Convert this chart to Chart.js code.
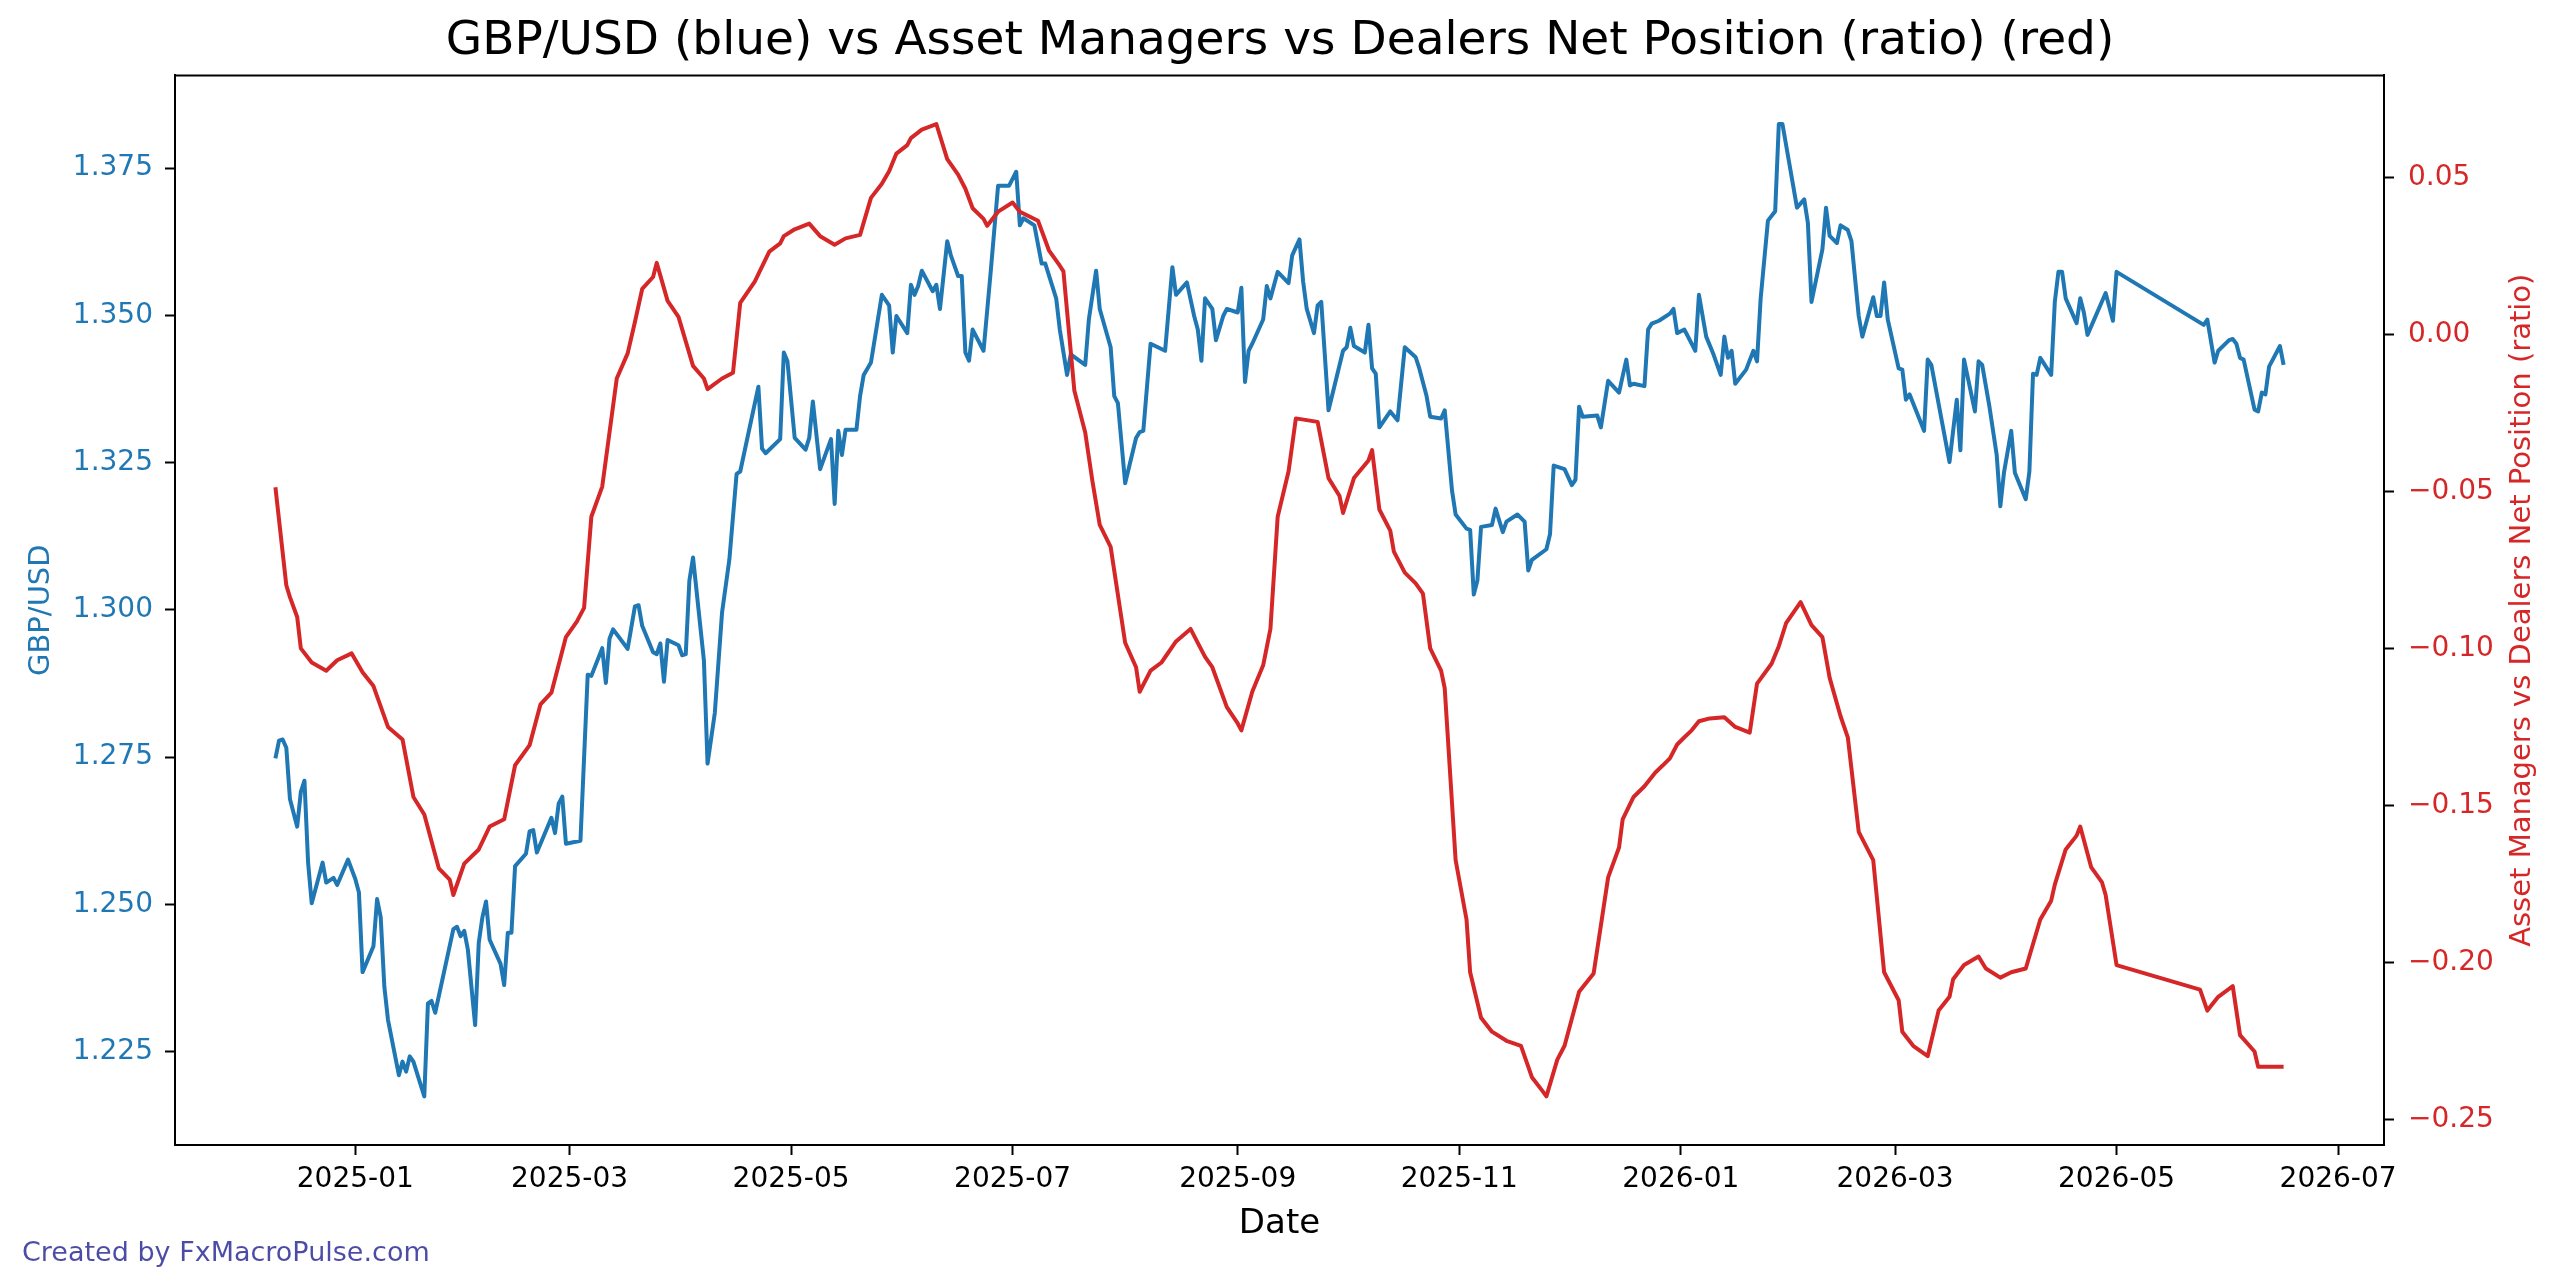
<!DOCTYPE html>
<html>
<head>
<meta charset="utf-8">
<script src="https://cdn.jsdelivr.net/npm/chart.js@4.4.1/dist/chart.umd.min.js"></script>
<style>
html,body{margin:0;padding:0;background:#ffffff;}
#wrap{width:2560px;height:1288px;}
</style>
</head>
<body>
<div id="wrap"><canvas id="c" width="2560" height="1288"></canvas></div>
<script>
// ---------------- DATA ----------------
const chartTitle = 'GBP/USD (blue) vs Asset Managers vs Dealers Net Position (ratio) (red)';
const leftAxisLabel = 'GBP/USD';
const rightAxisLabel = 'Asset Managers vs Dealers Net Position (ratio)';
const xAxisLabel = 'Date';
const footerText = 'Created by FxMacroPulse.com';

const blueDates = [
'2024-12-10','2024-12-11','2024-12-12','2024-12-13','2024-12-14','2024-12-16','2024-12-17','2024-12-18','2024-12-19','2024-12-20',
'2024-12-23','2024-12-24','2024-12-26','2024-12-27','2024-12-30','2025-01-01','2025-01-02','2025-01-03','2025-01-06','2025-01-07',
'2025-01-08','2025-01-09','2025-01-10','2025-01-13','2025-01-14','2025-01-15','2025-01-16','2025-01-17','2025-01-20','2025-01-21',
'2025-01-22','2025-01-23','2025-01-28','2025-01-29','2025-01-30','2025-01-31','2025-02-01','2025-02-03','2025-02-04','2025-02-05',
'2025-02-06','2025-02-07','2025-02-10','2025-02-11','2025-02-12','2025-02-13','2025-02-14','2025-02-17','2025-02-18','2025-02-19',
'2025-02-20','2025-02-24','2025-02-25','2025-02-26','2025-02-27','2025-02-28','2025-03-04','2025-03-06','2025-03-07','2025-03-10',
'2025-03-11','2025-03-12','2025-03-13','2025-03-17','2025-03-19','2025-03-20','2025-03-21','2025-03-24','2025-03-25','2025-03-26',
'2025-03-27','2025-03-28','2025-03-31','2025-04-01','2025-04-02','2025-04-03','2025-04-04','2025-04-07','2025-04-08','2025-04-10',
'2025-04-12','2025-04-14','2025-04-16','2025-04-17','2025-04-22','2025-04-23','2025-04-24','2025-04-28','2025-04-29','2025-04-30',
'2025-05-02','2025-05-05','2025-05-06','2025-05-07','2025-05-09','2025-05-12','2025-05-13','2025-05-14','2025-05-15','2025-05-16',
'2025-05-19','2025-05-20','2025-05-21','2025-05-23','2025-05-26','2025-05-28','2025-05-29','2025-05-30','2025-06-02','2025-06-03',
'2025-06-04','2025-06-05','2025-06-06','2025-06-09','2025-06-10','2025-06-11','2025-06-13','2025-06-14','2025-06-16','2025-06-17',
'2025-06-18','2025-06-19','2025-06-20','2025-06-23','2025-06-25','2025-06-27','2025-06-30','2025-07-02','2025-07-03','2025-07-04',
'2025-07-07','2025-07-09','2025-07-10','2025-07-13','2025-07-14','2025-07-16','2025-07-17','2025-07-21','2025-07-22','2025-07-24',
'2025-07-25','2025-07-28','2025-07-29','2025-07-30','2025-08-01','2025-08-04','2025-08-05','2025-08-06','2025-08-08','2025-08-12',
'2025-08-14','2025-08-15','2025-08-18','2025-08-20','2025-08-21','2025-08-22','2025-08-23','2025-08-25','2025-08-26','2025-08-28',
'2025-08-29','2025-09-01','2025-09-02','2025-09-03','2025-09-04','2025-09-05','2025-09-08','2025-09-09','2025-09-10','2025-09-12',
'2025-09-15','2025-09-16','2025-09-18','2025-09-19','2025-09-20','2025-09-22','2025-09-23','2025-09-24','2025-09-26','2025-09-30',
'2025-10-01','2025-10-02','2025-10-03','2025-10-06','2025-10-07','2025-10-08','2025-10-09','2025-10-10','2025-10-13','2025-10-15',
'2025-10-17','2025-10-20','2025-10-21','2025-10-23','2025-10-24','2025-10-27','2025-10-28','2025-10-30','2025-10-31','2025-11-03',
'2025-11-04','2025-11-05','2025-11-06','2025-11-07','2025-11-10','2025-11-11','2025-11-13','2025-11-14','2025-11-17','2025-11-19',
'2025-11-20','2025-11-21','2025-11-25','2025-11-26','2025-11-27','2025-11-30','2025-12-02','2025-12-03','2025-12-04','2025-12-05',
'2025-12-09','2025-12-10','2025-12-12','2025-12-15','2025-12-17','2025-12-18','2025-12-19','2025-12-22','2025-12-23','2025-12-24',
'2025-12-26','2025-12-29','2025-12-30','2025-12-31','2026-01-02','2026-01-05','2026-01-06','2026-01-08','2026-01-10','2026-01-12',
'2026-01-13','2026-01-14','2026-01-15','2026-01-16','2026-01-19','2026-01-21','2026-01-22','2026-01-23','2026-01-25','2026-01-27',
'2026-01-28','2026-01-29','2026-02-02','2026-02-04','2026-02-05','2026-02-06','2026-02-09','2026-02-10','2026-02-11','2026-02-13',
'2026-02-14','2026-02-16','2026-02-17','2026-02-19','2026-02-20','2026-02-23','2026-02-24','2026-02-25','2026-02-26','2026-02-27',
'2026-03-02','2026-03-03','2026-03-04','2026-03-05','2026-03-09','2026-03-10','2026-03-11','2026-03-16','2026-03-18','2026-03-19',
'2026-03-20','2026-03-23','2026-03-24','2026-03-25','2026-03-27','2026-03-29','2026-03-30','2026-03-31','2026-04-02','2026-04-03',
'2026-04-06','2026-04-07','2026-04-08','2026-04-09','2026-04-10','2026-04-13','2026-04-14','2026-04-15','2026-04-16','2026-04-17',
'2026-04-20','2026-04-21','2026-04-22','2026-04-23','2026-04-28','2026-04-30','2026-05-01','2026-05-25','2026-05-26','2026-05-28',
'2026-05-29','2026-06-01','2026-06-02','2026-06-03','2026-06-04','2026-06-05','2026-06-08','2026-06-09','2026-06-10','2026-06-11',
'2026-06-12','2026-06-15','2026-06-16'
];
const blueValues = [
1.2748,1.2778,1.2780,1.2766,1.2679,1.2632,1.2691,1.2710,1.2571,1.2502,
1.2571,1.2537,1.2545,1.2533,1.2576,1.2543,1.2520,1.2385,1.2429,1.2509,
1.2478,1.2360,1.2304,1.2210,1.2233,1.2216,1.2242,1.2233,1.2174,1.2332,
1.2336,1.2316,1.2458,1.2462,1.2446,1.2455,1.2423,1.2295,1.2435,1.2478,
1.2505,1.2440,1.2399,1.2363,1.2452,1.2452,1.2565,1.2586,1.2624,1.2626,
1.2588,1.2647,1.2621,1.2671,1.2683,1.2603,1.2608,1.2890,1.2888,1.2935,
1.2876,1.2951,1.2967,1.2934,1.3006,1.3008,1.2973,1.2928,1.2925,1.2943,
1.2878,1.2949,1.2940,1.2923,1.2925,1.3050,1.3089,1.2914,1.2739,1.2825,
1.2996,1.3085,1.3231,1.3235,1.3379,1.3274,1.3266,1.3290,1.3437,1.3422,
1.3292,1.3272,1.3292,1.3354,1.3239,1.3290,1.3180,1.3304,1.3263,1.3306,
1.3306,1.3363,1.3399,1.3420,1.3535,1.3517,1.3437,1.3499,1.3470,1.3552,
1.3535,1.3550,1.3576,1.3541,1.3552,1.3511,1.3626,1.3602,1.3567,1.3567,
1.3437,1.3423,1.3476,1.3440,1.3576,1.3720,1.3720,1.3744,1.3653,1.3665,
1.3653,1.3588,1.3588,1.3529,1.3476,1.3399,1.3434,1.3416,1.3493,1.3576,
1.3511,1.3446,1.3363,1.3351,1.3215,1.3292,1.3302,1.3304,1.3452,1.3440,
1.3582,1.3535,1.3556,1.3499,1.3476,1.3423,1.3529,1.3511,1.3458,1.3499,
1.3511,1.3505,1.3547,1.3387,1.3440,1.3452,1.3493,1.3550,1.3529,1.3574,
1.3555,1.3602,1.3629,1.3558,1.3511,1.3470,1.3517,1.3523,1.3339,1.3440,
1.3446,1.3479,1.3448,1.3437,1.3484,1.3410,1.3401,1.3310,1.3337,1.3322,
1.3446,1.3429,1.3410,1.3363,1.3328,1.3325,1.3339,1.3203,1.3162,1.3138,
1.3136,1.3026,1.3050,1.3141,1.3144,1.3172,1.3132,1.3150,1.3162,1.3150,
1.3067,1.3085,1.3103,1.3129,1.3245,1.3239,1.3212,1.3221,1.3345,1.3328,
1.3330,1.3310,1.3389,1.3369,1.3425,1.3381,1.3384,1.3380,1.3476,1.3486,
1.3491,1.3503,1.3511,1.3470,1.3476,1.3440,1.3535,1.3464,1.3434,1.3399,
1.3464,1.3428,1.3440,1.3384,1.3408,1.3440,1.3422,1.3529,1.3661,1.3677,
1.3825,1.3825,1.3683,1.3697,1.3657,1.3523,1.3612,1.3683,1.3635,1.3623,
1.3653,1.3645,1.3626,1.3499,1.3464,1.3531,1.3499,1.3499,1.3556,1.3493,
1.3410,1.3408,1.3357,1.3366,1.3304,1.3425,1.3416,1.3251,1.3357,1.3271,
1.3425,1.3337,1.3422,1.3416,1.3345,1.3263,1.3176,1.3233,1.3304,1.3233,
1.3188,1.3235,1.3401,1.3399,1.3428,1.3399,1.3523,1.3574,1.3574,1.3529,
1.3487,1.3529,1.3505,1.3467,1.3538,1.3491,1.3574,1.3484,1.3493,1.3420,
1.3440,1.3458,1.3460,1.3452,1.3428,1.3425,1.3340,1.3337,1.3369,1.3366,
1.3413,1.3448,1.3416
];

const redDates = [
'2024-12-10','2024-12-13','2024-12-14','2024-12-16','2024-12-17','2024-12-20','2024-12-24','2024-12-27','2024-12-31','2025-01-03',
'2025-01-06','2025-01-10','2025-01-14','2025-01-17','2025-01-20','2025-01-24','2025-01-27','2025-01-28','2025-01-31','2025-02-04',
'2025-02-07','2025-02-11','2025-02-14','2025-02-18','2025-02-21','2025-02-24','2025-02-28','2025-03-03','2025-03-05','2025-03-07',
'2025-03-10','2025-03-14','2025-03-17','2025-03-19','2025-03-21','2025-03-24','2025-03-25','2025-03-28','2025-03-31','2025-04-04',
'2025-04-07','2025-04-08','2025-04-12','2025-04-15','2025-04-17','2025-04-21','2025-04-25','2025-04-28','2025-04-29','2025-05-02',
'2025-05-06','2025-05-09','2025-05-13','2025-05-16','2025-05-20','2025-05-23','2025-05-26','2025-05-28','2025-05-30','2025-06-02',
'2025-06-03','2025-06-06','2025-06-10','2025-06-13','2025-06-16','2025-06-18','2025-06-20','2025-06-23','2025-06-24','2025-06-27',
'2025-07-01','2025-07-03','2025-07-08','2025-07-11','2025-07-14','2025-07-15','2025-07-18','2025-07-21','2025-07-23','2025-07-25',
'2025-07-28','2025-08-01','2025-08-04','2025-08-05','2025-08-08','2025-08-11','2025-08-15','2025-08-19','2025-08-23','2025-08-25',
'2025-08-29','2025-09-01','2025-09-02','2025-09-05','2025-09-08','2025-09-10','2025-09-12','2025-09-15','2025-09-17','2025-09-23',
'2025-09-26','2025-09-29','2025-09-30','2025-10-03','2025-10-07','2025-10-08','2025-10-10','2025-10-13','2025-10-14','2025-10-17',
'2025-10-20','2025-10-22','2025-10-24','2025-10-27','2025-10-28','2025-10-31','2025-11-03','2025-11-04','2025-11-07','2025-11-10',
'2025-11-14','2025-11-18','2025-11-21','2025-11-24','2025-11-25','2025-11-28','2025-11-30','2025-12-04','2025-12-08','2025-12-12',
'2025-12-15','2025-12-16','2025-12-19','2025-12-22','2025-12-25','2025-12-27','2025-12-29','2025-12-31','2026-01-02','2026-01-04',
'2026-01-06','2026-01-09','2026-01-13','2026-01-16','2026-01-20','2026-01-22','2026-01-26','2026-01-28','2026-01-30','2026-02-03',
'2026-02-06','2026-02-09','2026-02-11','2026-02-14','2026-02-16','2026-02-19','2026-02-23','2026-02-26','2026-03-02','2026-03-03',
'2026-03-06','2026-03-10','2026-03-13','2026-03-16','2026-03-17','2026-03-20','2026-03-24','2026-03-26','2026-03-30','2026-04-02',
'2026-04-06','2026-04-10','2026-04-13','2026-04-14','2026-04-17','2026-04-20','2026-04-21','2026-04-24','2026-04-27','2026-04-28',
'2026-05-01','2026-05-24','2026-05-26','2026-05-29','2026-06-02','2026-06-04','2026-06-08','2026-06-09','2026-06-16'
];
const redValues = [
-0.0486,-0.0798,-0.0836,-0.0899,-0.0999,-0.1044,-0.1070,-0.1037,-0.1015,-0.1075,
-0.1119,-0.1249,-0.1289,-0.1472,-0.1528,-0.1699,-0.1735,-0.1784,-0.1684,-0.1639,
-0.1566,-0.1543,-0.1371,-0.1307,-0.1177,-0.1140,-0.0963,-0.0914,-0.0870,-0.0580,
-0.0484,-0.0140,-0.0060,0.0040,0.0145,0.0183,0.0228,0.0107,0.0056,-0.0100,
-0.0140,-0.0174,-0.0140,-0.0122,0.0101,0.0168,0.0264,0.0290,0.0313,0.0335,
0.0353,0.0313,0.0286,0.0306,0.0317,0.0435,0.0480,0.0520,0.0576,0.0603,
0.0625,0.0652,0.0670,0.0558,0.0509,0.0464,0.0402,0.0368,0.0346,0.0391,
0.0420,0.0391,0.0362,0.0268,0.0219,0.0201,-0.0178,-0.0312,-0.0468,-0.0606,
-0.0676,-0.0981,-0.1059,-0.1137,-0.1070,-0.1044,-0.0977,-0.0937,-0.1026,-0.1059,
-0.1186,-0.1238,-0.1260,-0.1137,-0.1053,-0.0937,-0.0580,-0.0435,-0.0267,-0.0278,
-0.0457,-0.0513,-0.0568,-0.0457,-0.0401,-0.0368,-0.0557,-0.0624,-0.0691,-0.0758,
-0.0792,-0.0825,-0.0999,-0.1070,-0.1126,-0.1673,-0.1862,-0.2030,-0.2175,-0.2219,
-0.2248,-0.2264,-0.2364,-0.2409,-0.2425,-0.2308,-0.2264,-0.2092,-0.2034,-0.1728,
-0.1633,-0.1543,-0.1472,-0.1438,-0.1394,-0.1372,-0.1349,-0.1305,-0.1282,-0.1260,
-0.1231,-0.1222,-0.1218,-0.1249,-0.1267,-0.1111,-0.1048,-0.0992,-0.0919,-0.0852,
-0.0925,-0.0963,-0.1093,-0.1215,-0.1282,-0.1583,-0.1673,-0.2030,-0.2119,-0.2219,
-0.2264,-0.2297,-0.2152,-0.2108,-0.2052,-0.2007,-0.1980,-0.2018,-0.2047,-0.2030,
-0.2018,-0.1862,-0.1802,-0.1751,-0.1639,-0.1595,-0.1566,-0.1695,-0.1744,-0.1784,
-0.2007,-0.2085,-0.2152,-0.2108,-0.2074,-0.2230,-0.2282,-0.2331,-0.2331
];

const leftTicks = [1.225, 1.250, 1.275, 1.300, 1.325, 1.350, 1.375];
const rightTicks = [-0.25, -0.20, -0.15, -0.10, -0.05, 0.00, 0.05];
const xTickDates = ['2025-01-01','2025-03-01','2025-05-01','2025-07-01','2025-09-01','2025-11-01','2026-01-01','2026-03-01','2026-05-01','2026-07-01'];
const xTickLabels = ['2025-01','2025-03','2025-05','2025-07','2025-09','2025-11','2026-01','2026-03','2026-05','2026-07'];

// ---------------- HELPERS ----------------
function toTs(s){ const p = s.split('-').map(Number); return Date.UTC(p[0], p[1]-1, p[2]); }
const bluePts = blueDates.map((d,i)=>({x: toTs(d), y: blueValues[i]}));
const redPts  = redDates.map((d,i)=>({x: toTs(d), y: redValues[i]}));

function padRange(vals){ const lo=Math.min(...vals), hi=Math.max(...vals), m=(hi-lo)*0.05; return [lo-m, hi+m]; }
const xRange = padRange(bluePts.map(p=>p.x).concat(redPts.map(p=>p.x)));
const yRange = padRange(blueValues);
const y1Range = padRange(redValues);

const FONT = 'DejaVu Sans';
const BLUE = '#1f77b4';
const RED = '#d62728';

function fmtRight(v){
  const s = Math.abs(v).toFixed(2);
  return (v < -1e-9 ? '\u2212' : '') + s;
}

const framePlugin = {
  id: 'frame',
  afterDraw(chart){
    const {ctx, chartArea:a} = chart;
    ctx.save();
    ctx.strokeStyle = '#000';
    ctx.lineWidth = 2;
    ctx.beginPath();
    ctx.moveTo(a.left-1, a.top);
    ctx.lineTo(a.right+1, a.top);
    ctx.stroke();
    // right axis title (reads bottom to top)
    ctx.fillStyle = RED;
    ctx.font = '29px "' + FONT + '"';
    ctx.textAlign = 'center';
    ctx.textBaseline = 'alphabetic';
    ctx.translate(2530, (a.top + a.bottom)/2);
    ctx.rotate(-Math.PI/2);
    ctx.fillText(rightAxisLabel, 0, 0);
    ctx.restore();
    // footer
    ctx.save();
    ctx.fillStyle = 'rgba(0,0,128,0.7)';
    ctx.font = '27px "' + FONT + '"';
    ctx.textAlign = 'left';
    ctx.textBaseline = 'alphabetic';
    ctx.fillText(footerText, 22, 1261);
    ctx.restore();
  }
};

const ctx = document.getElementById('c').getContext('2d');
new Chart(ctx, {
  type: 'line',
  data: {
    datasets: [
      { label: 'Asset Managers vs Dealers Net Position (ratio)', data: redPts, yAxisID: 'y1', xAxisID: 'x',
        borderColor: RED, backgroundColor: RED, borderWidth: 4, pointRadius: 0, tension: 0, order: 0,
        borderJoinStyle: 'round', borderCapStyle: 'butt' },
      { label: 'GBP/USD', data: bluePts, yAxisID: 'y', xAxisID: 'x',
        borderColor: BLUE, backgroundColor: BLUE, borderWidth: 4, pointRadius: 0, tension: 0, order: 1,
        borderJoinStyle: 'round', borderCapStyle: 'butt' }
    ]
  },
  options: {
    responsive: false,
    animation: false,
    devicePixelRatio: 1,
    parsing: true,
    layout: { padding: 0 },
    plugins: {
      legend: { display: false },
      tooltip: { enabled: false },
      title: {
        display: true, text: chartTitle, color: '#000',
        font: { family: FONT, size: 47, weight: 'normal', lineHeight: 1.2 },
        padding: { top: 14, bottom: 5 }
      }
    },
    scales: {
      x: {
        type: 'linear', position: 'bottom',
        min: xRange[0], max: xRange[1],
        afterBuildTicks: s => { s.ticks = xTickDates.map(d => ({ value: toTs(d) })); },
        afterFit: s => { s.height = 143; },
        ticks: { color: '#000', font: { family: FONT, size: 28 }, padding: 8, maxRotation: 0, autoSkip: false,
                 callback: (v, i) => xTickLabels[i] },
        grid: { drawOnChartArea: false, drawTicks: true, tickLength: 10, tickColor: '#000', tickWidth: 2 },
        border: { display: true, color: '#000', width: 2 },
        title: { display: true, text: xAxisLabel, color: '#000', font: { family: FONT, size: 34, lineHeight: 1.2 }, padding: { top: 0, bottom: 43 } }
      },
      y: {
        type: 'linear', position: 'left',
        min: yRange[0], max: yRange[1],
        afterBuildTicks: s => { s.ticks = leftTicks.map(v => ({ value: v })); },
        afterFit: s => { s.width = 175; },
        ticks: { color: BLUE, font: { family: FONT, size: 28 }, padding: 12, callback: v => Number(v).toFixed(3) },
        grid: { drawOnChartArea: false, drawTicks: true, tickLength: 10, tickColor: '#000', tickWidth: 2 },
        border: { display: true, color: '#000', width: 2 },
        title: { display: true, text: leftAxisLabel, color: BLUE, font: { family: FONT, size: 29, lineHeight: 1.2 }, padding: { top: 24, bottom: 0 } }
      },
      y1: {
        type: 'linear', position: 'right',
        min: y1Range[0], max: y1Range[1],
        afterBuildTicks: s => { s.ticks = rightTicks.map(v => ({ value: v })); },
        afterFit: s => { s.width = 176; },
        ticks: { color: RED, font: { family: FONT, size: 28 }, padding: 14, callback: v => fmtRight(v) },
        grid: { drawOnChartArea: false, drawTicks: true, tickLength: 10, tickColor: '#000', tickWidth: 2 },
        border: { display: true, color: '#000', width: 2 }
      }
    }
  },
  plugins: [framePlugin]
});
</script>
</body>
</html>
